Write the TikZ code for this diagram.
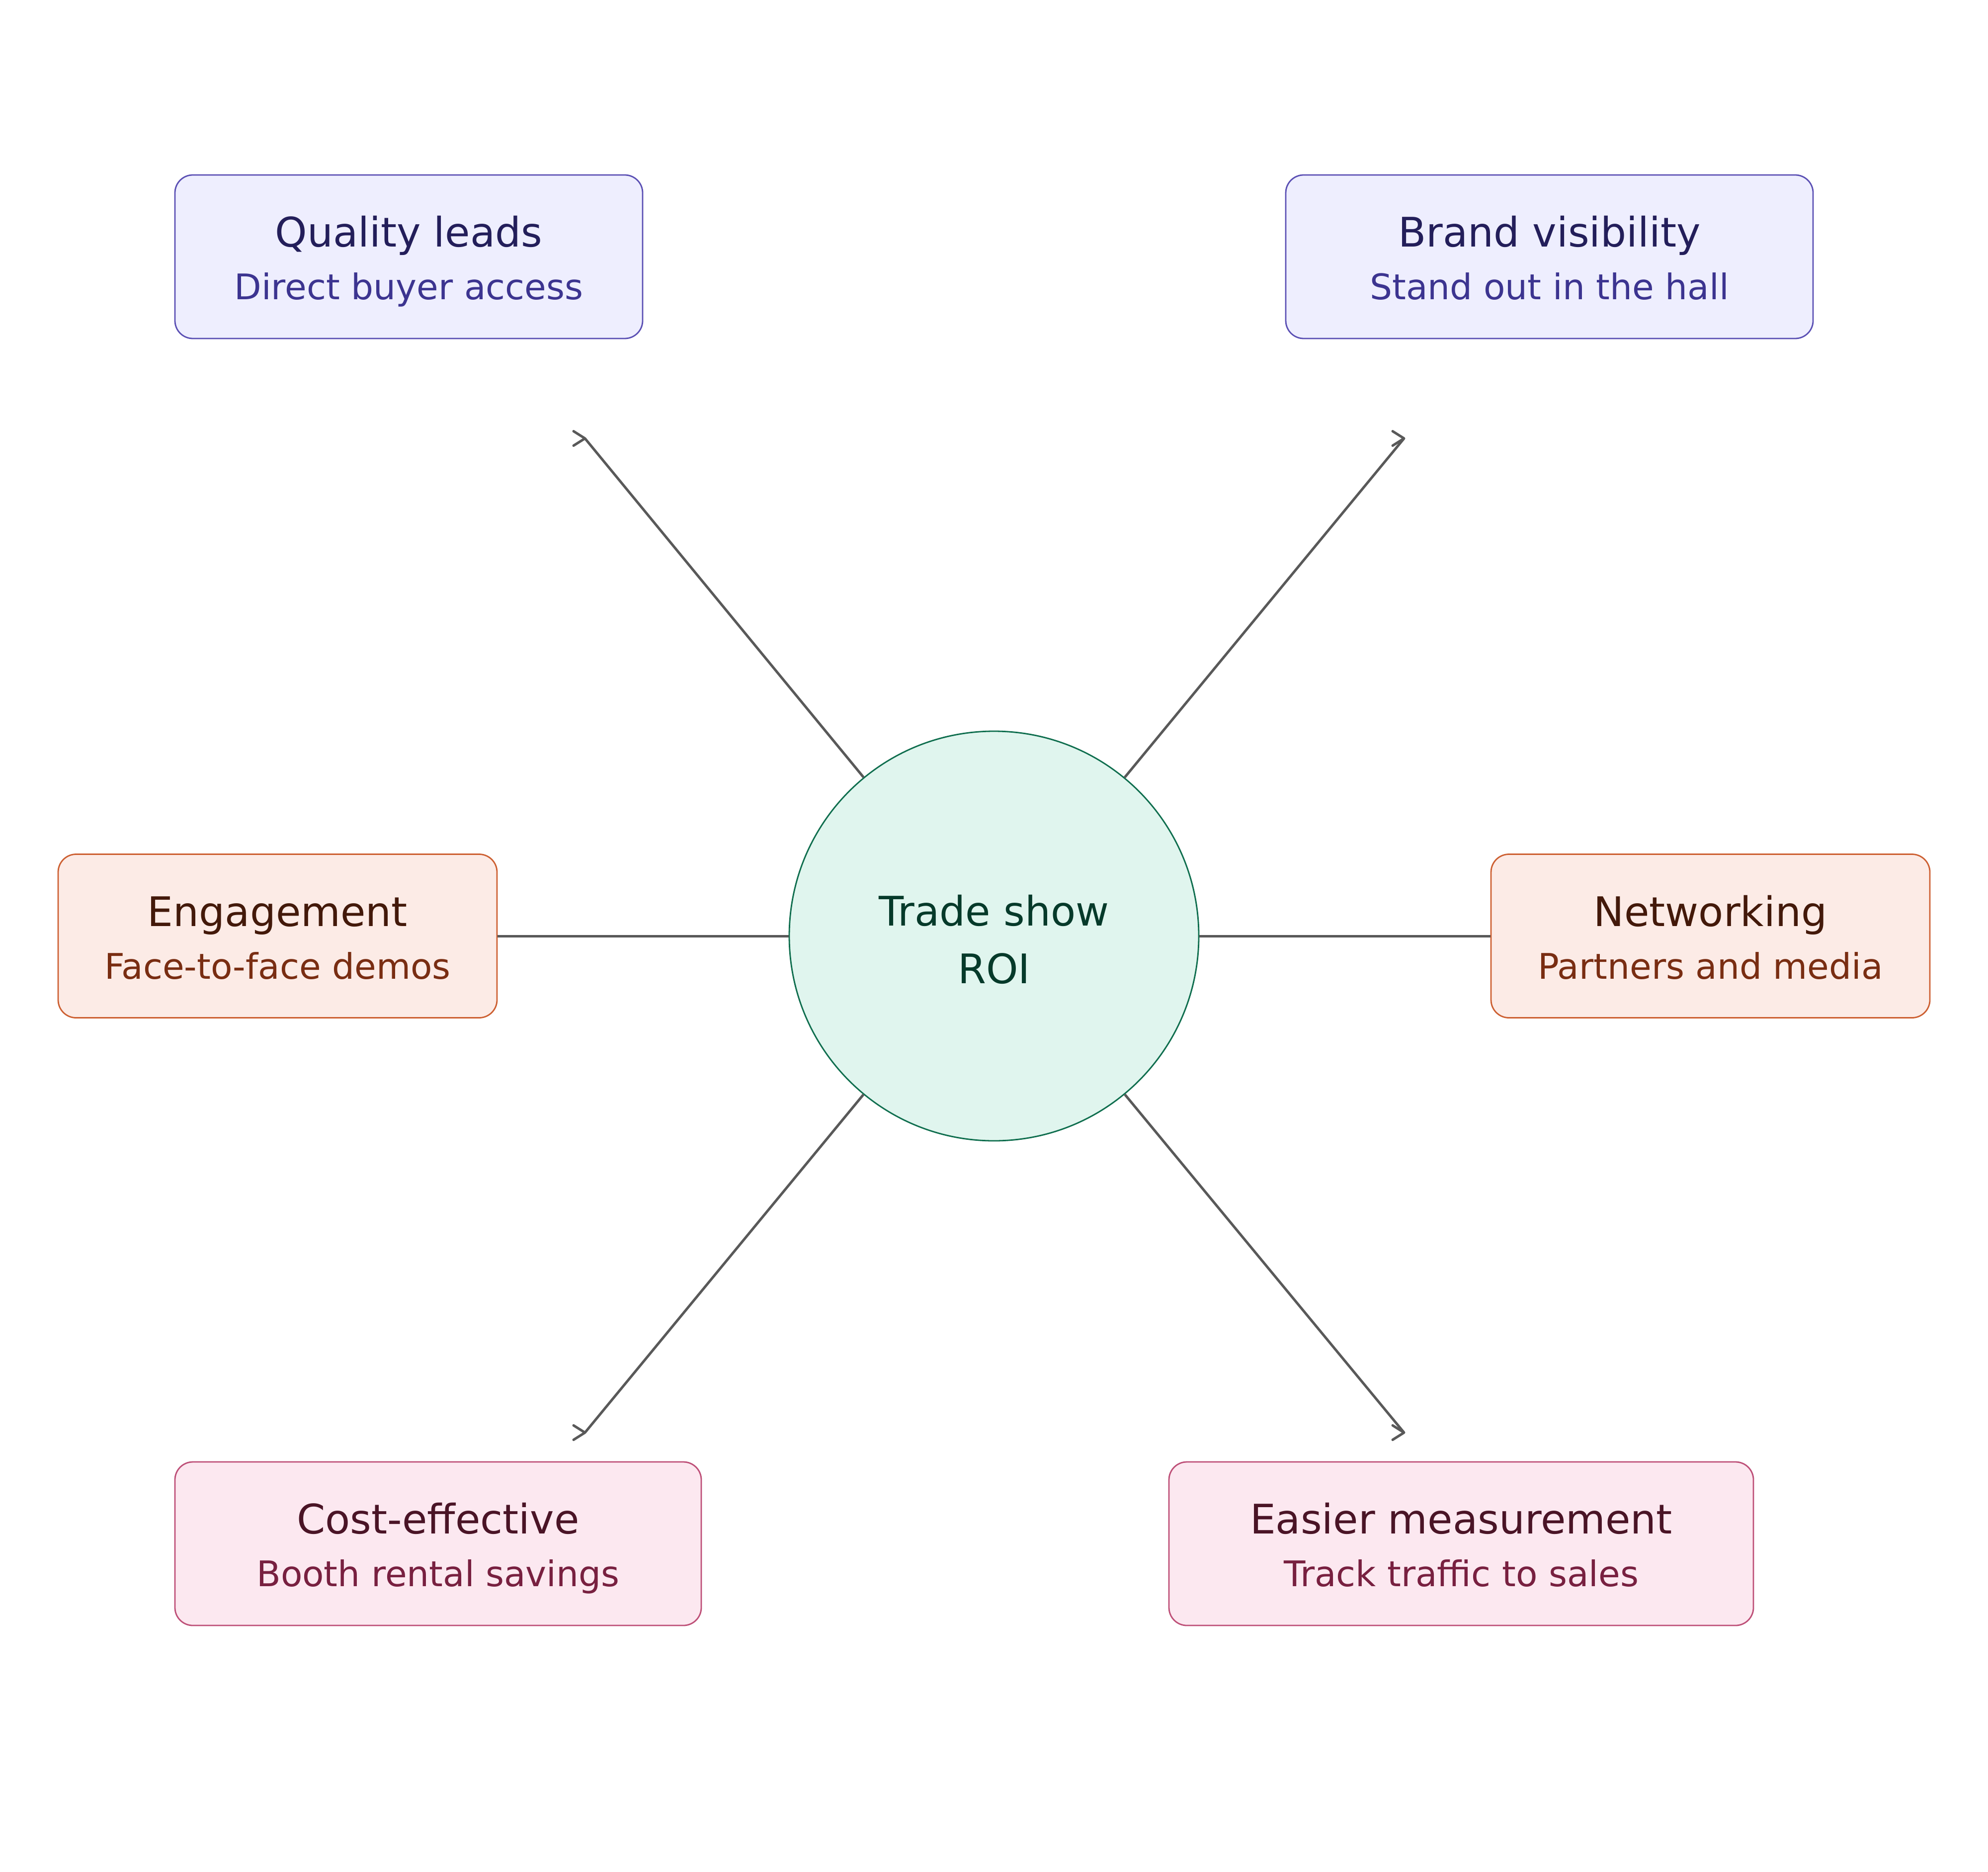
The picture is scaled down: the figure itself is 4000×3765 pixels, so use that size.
\documentclass[tikz,border=0pt]{standalone}
\usepackage{fontspec}
\setmainfont{DejaVu Sans}

\definecolor{violetfill}{HTML}{EEEEFE}
\definecolor{violetline}{HTML}{5B50B4}
\definecolor{violethead}{HTML}{231E5A}
\definecolor{violetsub}{HTML}{3C3490}
\definecolor{rustfill}{HTML}{FCEBE6}
\definecolor{rustline}{HTML}{CD6032}
\definecolor{rusthead}{HTML}{43190A}
\definecolor{rustsub}{HTML}{792D12}
\definecolor{rosefill}{HTML}{FCE8F0}
\definecolor{roseline}{HTML}{BE5078}
\definecolor{rosehead}{HTML}{4A1426}
\definecolor{rosesub}{HTML}{782040}
\definecolor{mintfill}{HTML}{E0F5EE}
\definecolor{mintline}{HTML}{0F6E4E}
\definecolor{minttext}{HTML}{063A2A}
\definecolor{linkgray}{HTML}{595959}

\newcommand{\headsize}{\fontsize{20.5pt}{26.5pt}\selectfont}
% invisible struts keep every box's two lines at the same height
\newcommand{\boxstrut}{\rule[-5pt]{0pt}{26.5pt}}
\newcommand{\hubstrut}{\rule[-5pt]{0pt}{28.5pt}}
\newcommand{\ideatext}[3]{\boxstrut#1\\{\color{#2}\fontsize{17.75pt}{26.5pt}\selectfont #3\boxstrut}}

\begin{document}
\begin{tikzpicture}[x=0.25pt, y=-0.25pt]
\tikzset{idea/.style={draw, rounded corners=9pt, line width=0.7pt,
                      minimum height=82.25pt, inner sep=0pt,
                      align=center, font=\headsize},
         violetbox/.style={idea, fill=violetfill, draw=violetline, text=violethead},
         rustbox/.style={idea, fill=rustfill, draw=rustline, text=rusthead},
         rosebox/.style={idea, fill=rosefill, draw=roseline, text=rosehead},
         hub/.style={circle, draw=mintline, fill=mintfill, line width=0.7pt,
                     minimum size=206pt, inner sep=0pt, align=center,
                     text=minttext, font=\fontsize{20.5pt}{29pt}\selectfont},
         link/.style={draw=linkgray, line width=1.25pt},
         tipmark/.style={link, line cap=round, line join=round}}
%\tikzset{every node/.style={draw=red}}
\fill[white] (0,0) rectangle (4000,3765);
\useasboundingbox (0,0) rectangle (4000,3765);

\node[hub] (roi) at (2000,1883) {\hubstrut Trade show\\ROI\hubstrut};

\node[violetbox, minimum width=235.25pt] (leads) at (822.5,516.5)
    {\ideatext{Quality leads}{violetsub}{Direct buyer access}};
\node[violetbox, minimum width=265.25pt] (brand) at (3117.5,516.5)
    {\ideatext{Brand visibility}{violetsub}{Stand out in the hall}};
\node[rustbox, minimum width=220.75pt] (engage) at (558.5,1883)
    {\ideatext{Engagement}{rustsub}{Face-to-face demos}};
\node[rustbox, minimum width=220.75pt] (network) at (3441.5,1883)
    {\ideatext{Networking}{rustsub}{Partners and media}};
\node[rosebox, minimum width=264.75pt] (cost) at (881.5,3105.5)
    {\ideatext{Cost-effective}{rosesub}{Booth rental savings}};
\node[rosebox, minimum width=294pt] (measure) at (2940,3105.5)
    {\ideatext{Easier measurement}{rosesub}{Track traffic to sales}};

% loose ends of the diagonal links
\coordinate (leadsTip) at (1177,882);
\coordinate (brandTip) at (2825,882);
\coordinate (costTip) at (1177,2882);
\coordinate (measureTip) at (2825,2882);

\path[link] (roi) -- (leadsTip);
\path[link] (roi) -- (brandTip);
\path[link] (roi) -- (costTip);
\path[link] (roi) -- (measureTip);
\path[link] (roi) -- (engage);
\path[link] (roi) -- (network);

\foreach \t in {leadsTip,brandTip,costTip,measureTip}
    \draw[tipmark] (\t) ++(-23,-14.5) -- (\t) -- ++(-23,14.5);
\end{tikzpicture}
\end{document}
